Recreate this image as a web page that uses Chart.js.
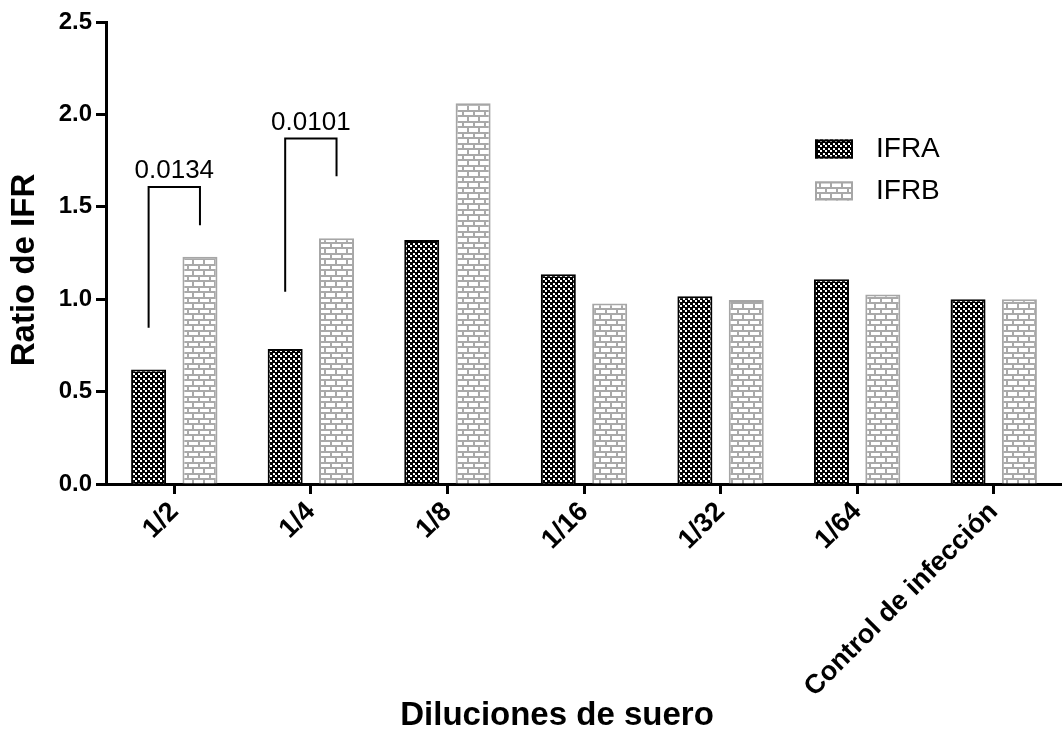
<!DOCTYPE html>
<html>
<head>
<meta charset="utf-8">
<script src="https://cdn.jsdelivr.net/npm/chart.js@4/dist/chart.umd.min.js"></script>
<style>
  html, body { margin: 0; padding: 0; background: #fff; }
  canvas { display: block; }
</style>
</head>
<body>
<canvas id="c" width="1062" height="752"></canvas>
<script>
// Serum dilutions and IFR ratios for both series
const dilutions = ['1/2', '1/4', '1/8', '1/16', '1/32', '1/64', 'Control de infección'];
const ifraRatio = [0.62, 0.73, 1.32, 1.135, 1.016, 1.108, 1.0];
const ifrbRatio = [1.23, 1.33, 2.06, 0.977, 0.995, 1.025, 1.0];
const seriesNames = ['IFRA', 'IFRB'];
const yTicks = [0, 0.5, 1.0, 1.5, 2.0, 2.5];

// Significance brackets (IFRA vs IFRB within a dilution)
const pLabels = ['0.0134', '0.0101'];
const pGroups = [0, 1];
const pTop = [1.607, 1.869];
const pLeftFoot = [0.845, 1.04];
const pRightFoot = [1.40, 1.665];

const xTitle = 'Diluciones de suero';
const yTitle = 'Ratio de IFR';

const FONT = '"Liberation Sans", Arial, Helvetica, sans-serif';

function checkerPattern(ctx) {
  const t = document.createElement('canvas');
  t.width = 5; t.height = 5;
  const g = t.getContext('2d');
  g.fillStyle = '#000'; g.fillRect(0, 0, 5, 5);
  g.fillStyle = '#fff';
  g.fillRect(0, 0, 2, 2);
  g.fillRect(3, 3, 2, 2);
  return ctx.createPattern(t, 'repeat');
}

function brickPattern(ctx) {
  const t = document.createElement('canvas');
  t.width = 22; t.height = 11;
  const g = t.getContext('2d');
  g.fillStyle = '#fff'; g.fillRect(0, 0, 22, 11);
  g.fillStyle = '#a9a9a9';
  // mortar rows
  g.fillRect(0, 0, 22, 2);
  g.fillRect(0, 5, 22, 2);
  // head joints, staggered
  g.fillRect(0, 2, 2, 3);
  g.fillRect(11, 2, 2, 3);
  g.fillRect(5, 7, 2, 4);
  g.fillRect(16, 7, 2, 4);
  return ctx.createPattern(t, 'repeat');
}

const canvas = document.getElementById('c');
const ctx = canvas.getContext('2d');
const checker = checkerPattern(ctx);
const brick = brickPattern(ctx);

const extras = {
  id: 'extras',
  afterDraw(chart) {
    const c = chart.ctx;
    const y = chart.scales.y;
    const m0 = chart.getDatasetMeta(0);
    const m1 = chart.getDatasetMeta(1);

    // brackets with p-values
    c.save();
    c.strokeStyle = '#000';
    c.lineWidth = 2;
    c.fillStyle = '#000';
    c.font = '26px ' + FONT;
    c.textAlign = 'center';
    c.textBaseline = 'alphabetic';
    pGroups.forEach((g, i) => {
      const xl = m0.data[g].x;
      const xr = m1.data[g].x;
      const yt = y.getPixelForValue(pTop[i]);
      c.beginPath();
      c.moveTo(xl, y.getPixelForValue(pLeftFoot[i]));
      c.lineTo(xl, yt);
      c.lineTo(xr, yt);
      c.lineTo(xr, y.getPixelForValue(pRightFoot[i]));
      c.stroke();
      c.fillText(pLabels[i], (xl + xr) / 2, yt - 9);
    });
    c.restore();

    // legend
    c.save();
    const rows = [149, 191];
    chart.data.datasets.forEach((ds, i) => {
      const top = rows[i] - 9.5;
      c.fillStyle = ds.backgroundColor;
      c.fillRect(815, top, 38, 19);
      c.strokeStyle = ds.borderColor;
      c.lineWidth = 2;
      c.strokeRect(816, top + 1, 36, 17);
      c.fillStyle = '#000';
      c.font = '28px ' + FONT;
      c.textAlign = 'left';
      c.textBaseline = 'middle';
      c.fillText(ds.label, 876, rows[i]);
    });
    c.restore();

    // axis titles
    c.save();
    c.fillStyle = '#000';
    c.font = 'bold 33px ' + FONT;
    c.textAlign = 'center';
    c.textBaseline = 'middle';
    c.fillText(xTitle, 557, 716);
    c.translate(25, 270);
    c.rotate(-Math.PI / 2);
    c.fillText(yTitle, 0, 0);
    c.restore();
  }
};

new Chart(ctx, {
  type: 'bar',
  data: {
    labels: dilutions,
    datasets: [
      {
        label: seriesNames[0],
        data: ifraRatio,
        backgroundColor: checker,
        borderColor: '#000',
        borderWidth: 2,
        categoryPercentage: 0.752,
        barPercentage: 0.682
      },
      {
        label: seriesNames[1],
        data: ifrbRatio,
        backgroundColor: brick,
        borderColor: '#a6a6a6',
        borderWidth: 2,
        categoryPercentage: 0.752,
        barPercentage: 0.682
      }
    ]
  },
  options: {
    responsive: false,
    animation: false,
    devicePixelRatio: 1,
    layout: { padding: { top: 22, left: 0, right: 0, bottom: 0 } },
    plugins: { legend: { display: false }, tooltip: { enabled: false } },
    scales: {
      x: {
        offset: true,
        grid: { offset: false, drawOnChartArea: false, drawTicks: true, tickLength: 10, tickWidth: 3, color: '#000' },
        border: { display: true, color: '#000', width: 3 },
        ticks: {
          autoSkip: false, minRotation: 45, maxRotation: 45, padding: 2, color: '#000',
          font: { family: FONT, size: 27, weight: 'bold' }
        },
        afterFit(s) { s.height = 268; }
      },
      y: {
        min: 0, max: 2.5,
        afterBuildTicks(s) { s.ticks = yTicks.map(v => ({ value: v })); },
        grid: { drawOnChartArea: false, drawTicks: true, tickLength: 10, tickWidth: 3, color: '#000' },
        border: { display: true, color: '#000', width: 3 },
        ticks: {
          padding: 4, color: '#000',
          font: { family: FONT, size: 24, weight: 'bold' },
          callback: v => Number(v).toFixed(1)
        },
        afterFit(s) { s.width = 106; }
      }
    }
  },
  plugins: [extras]
});
</script>
</body>
</html>
